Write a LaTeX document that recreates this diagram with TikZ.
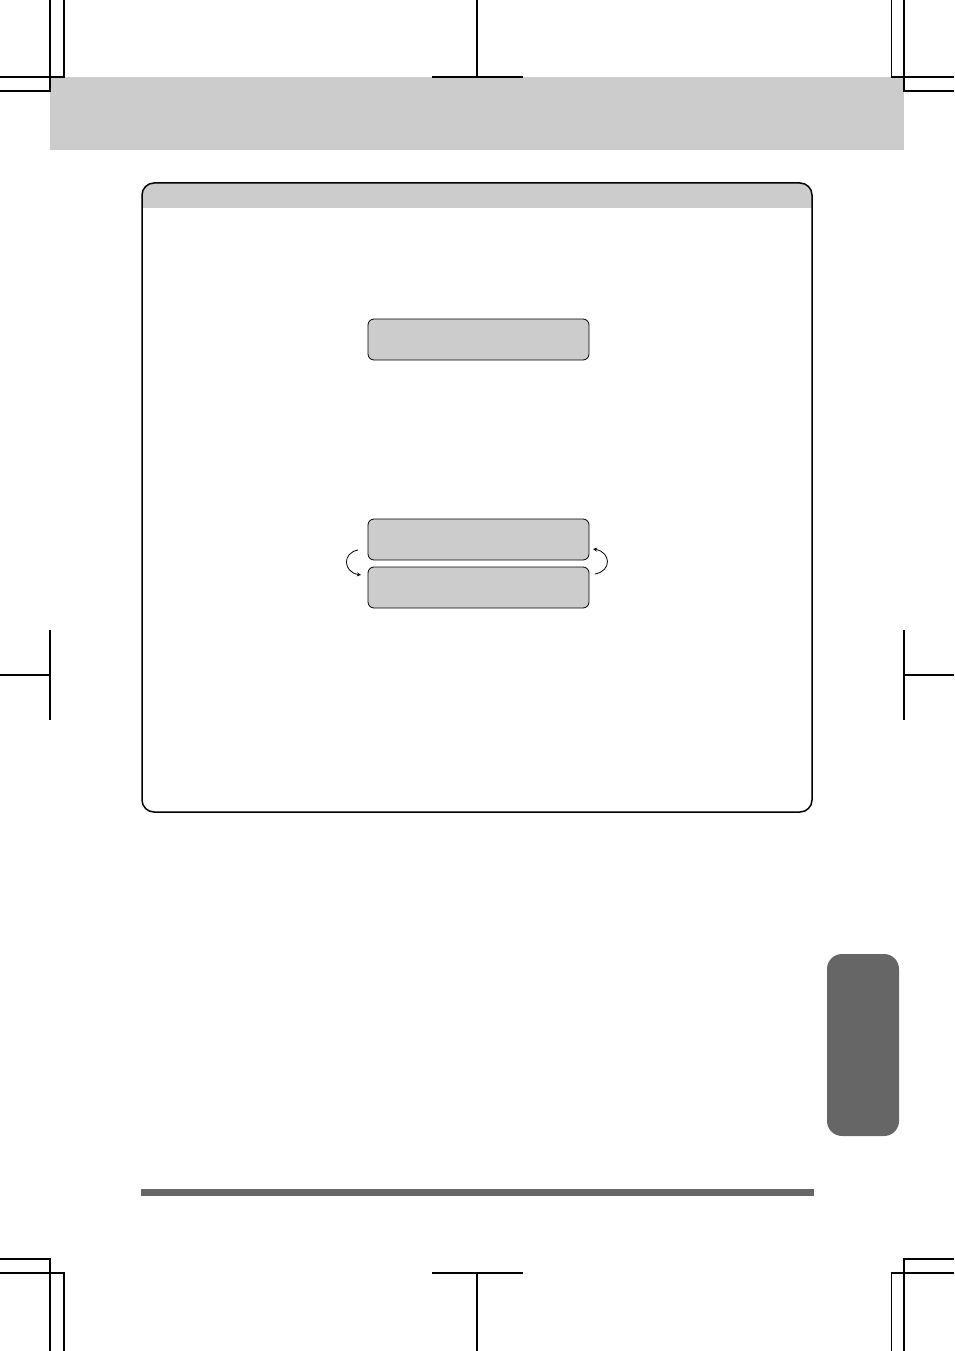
\documentclass[tikz,border=0pt]{standalone}
\definecolor{lightgrey}{gray}{0.8}
\definecolor{darkgrey}{gray}{0.4}
\tikzset{
  cropmark/.style={line width=1.3pt},
  lcd/.style={draw,rounded corners=6pt,fill=lightgrey,line width=0.8pt,minimum width=221pt,minimum height=41pt,inner sep=0pt},
  turn/.style={-stealth,line width=0.8pt}
}
\begin{document}
\begin{tikzpicture}[x=1pt,y=-1pt]
    \useasboundingbox (0,0) rectangle (954,1351);
    % grey header band
    \fill[lightgrey] (50,77) rectangle (904,150);
    % crop marks
    \draw[cropmark] (50,0) -- (50,91) -- (0,91);
    \draw[cropmark] (64,0) -- (64,77) -- (0,77);
    \draw[cropmark] (891.5,0) -- (891.5,77) -- (954,77);
    \draw[cropmark] (904,0) -- (904,91) -- (954,91);
    \draw[cropmark] (477,0) -- (477,77);
    \draw[cropmark] (432,77) -- (523,77);
    \draw[cropmark] (432,1273) -- (523,1273);
    \draw[cropmark] (477,1273) -- (477,1351);
    \draw[cropmark] (0,1259) -- (50,1259) -- (50,1351);
    \draw[cropmark] (0,1273) -- (64,1273) -- (64,1351);
    \draw[cropmark] (954,1259) -- (904,1259) -- (904,1351);
    \draw[cropmark] (954,1273) -- (891.5,1273) -- (891.5,1351);
    \draw[cropmark] (50,630) -- (50,720);
    \draw[cropmark] (0,675) -- (50,675);
    \draw[cropmark] (904,630) -- (904,720);
    \draw[cropmark] (904,675) -- (954,675);
    % panel
    \begin{scope}
    \clip[rounded corners=12pt] (142,183) rectangle (812,812);
    \fill[lightgrey] (142,183) rectangle (812,208);
    \end{scope}
    \draw[line width=1.5pt,rounded corners=12pt] (142,183) rectangle (812,812);
    % displays
    \node[lcd] (disp) at (478.5,339.5) {};
    \node[lcd] (upper) at (478.5,539.5) {};
    \node[lcd] (lower) at (478.5,587.5) {};
    \coordinate (la) at (358,550);
    \coordinate (lb) at (361,575);
    \coordinate (ra) at (595,574);
    \coordinate (rb) at (593,549);
    \draw[turn] (la) .. controls (342,553) and (343,572) .. (lb);
    \draw[turn] (ra) .. controls (612,571) and (611,552) .. (rb);
    % side tab and foot rule
    \fill[darkgrey,rounded corners=15pt] (827,954) rectangle (899,1136);
    \fill[darkgrey] (141,1189) rectangle (814,1196);
\end{tikzpicture}
\end{document}
